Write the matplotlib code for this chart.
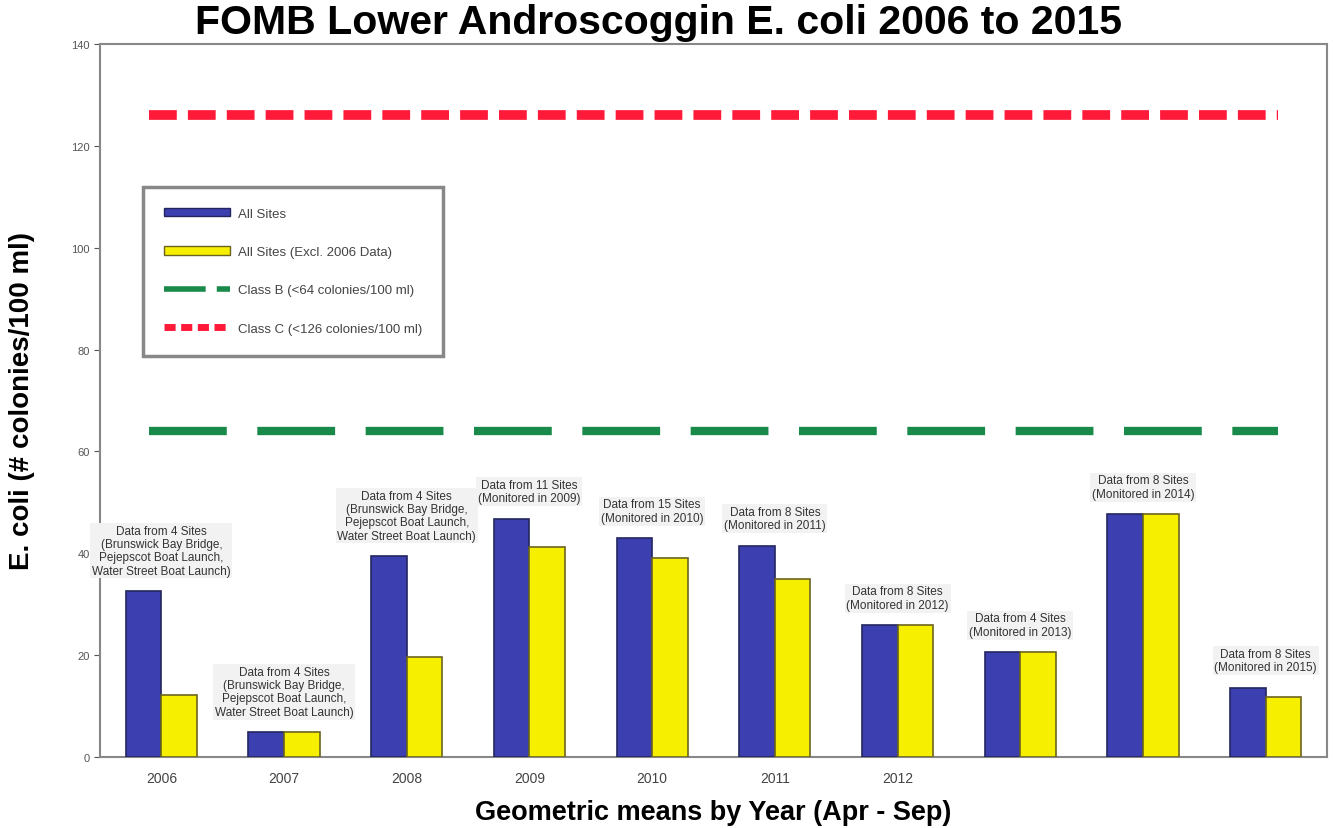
import numpy as np
import matplotlib
matplotlib.use("Agg")
import matplotlib.pyplot as plt
from matplotlib.patches import Patch
from matplotlib.lines import Line2D

years = ["2006", "2007", "2008", "2009", "2010", "2011", "2012", "", "", ""]
all_sites = [32.6, 4.9, 39.5, 46.8, 43.0, 41.5, 25.9, 20.6, 47.7, 13.6]
sub_sites = [12.2, 4.9, 19.6, 41.3, 39.1, 35.0, 25.9, 20.6, 47.7, 11.8]
class_b = 64
class_c = 126
notes = [
    "Data from 4 Sites\n(Brunswick Bay Bridge,\nPejepscot Boat Launch,\nWater Street Boat Launch)",
    "Data from 4 Sites\n(Brunswick Bay Bridge,\nPejepscot Boat Launch,\nWater Street Boat Launch)",
    "Data from 4 Sites\n(Brunswick Bay Bridge,\nPejepscot Boat Launch,\nWater Street Boat Launch)",
    "Data from 11 Sites\n(Monitored in 2009)",
    "Data from 15 Sites\n(Monitored in 2010)",
    "Data from 8 Sites\n(Monitored in 2011)",
    "Data from 8 Sites\n(Monitored in 2012)",
    "Data from 4 Sites\n(Monitored in 2013)",
    "Data from 8 Sites\n(Monitored in 2014)",
    "Data from 8 Sites\n(Monitored in 2015)",
]
legend_labels = ["All Sites", "All Sites (Excl. 2006 Data)",
                 "Class B (<64 colonies/100 ml)", "Class C (<126 colonies/100 ml)"]

plt.rcParams['font.family'] = ['Liberation Sans Narrow', 'Liberation Sans', 'DejaVu Sans']
plt.rcParams['lines.scale_dashes'] = False

fig = plt.figure(figsize=(13.33, 8.29), dpi=100)
ax = fig.add_axes([100/1333, 1-758/829, 1227/1333, 713/829])

x = np.arange(len(years))
w = 0.29
ax.bar(x - w/2, all_sites, w, color='#3b3fb0', edgecolor='#23265e', linewidth=1.2, zorder=3)
ax.bar(x + w/2, sub_sites, w, color='#f7ef00', edgecolor='#6b6420', linewidth=1.2, zorder=3)

# water quality standards
ax.hlines(class_b, -0.1, 9.1, colors='#1a8a4a', linewidth=6,
          linestyles=(0, (56, 22)), zorder=2)
ax.hlines(class_c, -0.1, 9.1, colors='#ff1a3a', linewidth=7,
          linestyles=(0, (20, 8)), zorder=2)

for i in range(len(x)):
    top = max(all_sites[i], sub_sites[i])
    ax.text(x[i], top + 2.8, notes[i], ha='center', va='bottom', fontsize=8.5,
            color='#333333', linespacing=1.15,
            bbox=dict(boxstyle='square,pad=0.15', fc='#f2f2f2', ec='none'), zorder=4)

ax.set_xlim(-0.5, 9.5)
ax.set_ylim(0, 140)
ax.set_yticks(range(0, 141, 20))
ax.set_xticks(x)
ax.set_xticklabels(years, fontsize=10, color='#444444')
ax.tick_params(axis='y', labelsize=8, colors='#555555', length=4)
ax.tick_params(axis='x', length=0, pad=10)
for s in ax.spines.values():
    s.set_color('#888888')
    s.set_linewidth(1.5)

ax.set_ylabel("E. coli (# colonies/100 ml)", fontsize=20, fontweight='bold', labelpad=26)
ax.set_xlabel("Geometric means by Year (Apr - Sep)", fontsize=19.5, fontweight='bold', labelpad=10)
fig.text(0.494, 0.972, "FOMB Lower Androscoggin E. coli 2006 to 2015", ha='center', va='center',
         fontsize=29.5, fontweight='bold')

handles = [
    Patch(facecolor='#3b3fb0', edgecolor='#23265e'),
    Patch(facecolor='#f7ef00', edgecolor='#6b6420'),
    Line2D([0], [0], color='#1a8a4a', linewidth=4, linestyle=(0, (30, 8))),
    Line2D([0], [0], color='#ff1a3a', linewidth=5, linestyle=(0, (8, 4))),
]
leg = ax.legend(handles, legend_labels, loc='upper left', bbox_to_anchor=(0.035, 0.8),
                borderaxespad=0, fontsize=9.5, labelspacing=2.0, handlelength=5,
                handleheight=0.6, handletextpad=0.6, borderpad=1.6, fancybox=False,
                edgecolor='#888888', framealpha=1)
leg.get_frame().set_linewidth(2.5)
for t in leg.get_texts():
    t.set_color('#444444')

fig.savefig("out.png", dpi=100)
